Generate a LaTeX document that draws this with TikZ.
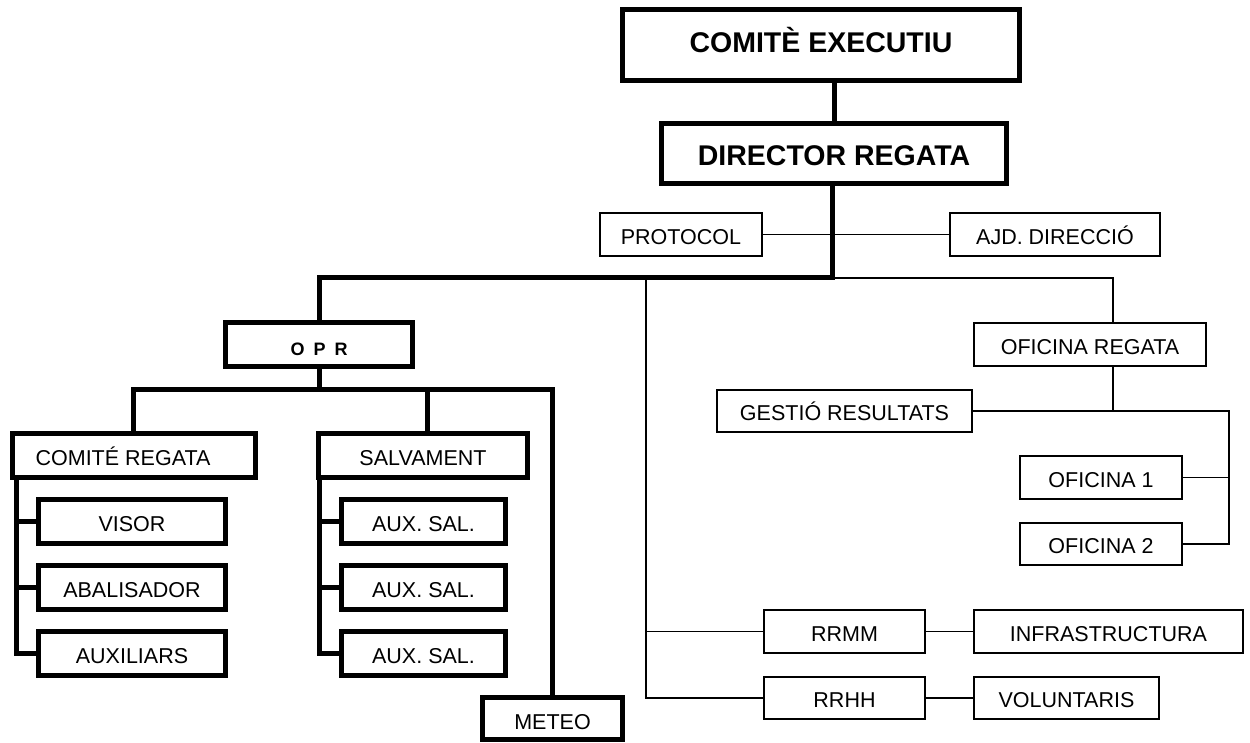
\documentclass[tikz,border=0pt]{standalone}
\usepackage{fontspec}
\setmainfont{Liberation Sans}
\begin{document}
\begin{tikzpicture}[x=1pt,y=-1pt,
  sz/.style 2 args={minimum width=#1pt, minimum height=#2pt},
  thickbox/.style={draw, line width=5pt, inner sep=0pt, text height=19.5pt, text depth=0pt,
    font=\fontsize{21.5}{24}\selectfont},
  thinbox/.style={draw, line width=1.8pt, inner sep=0pt, text height=19.5pt, text depth=0pt,
    font=\fontsize{21.5}{24}\selectfont},
  boldtxt/.style={font=\fontsize{28.5}{32}\selectfont\bfseries},
  thickline/.style={line width=5pt, line join=miter},
  thinline/.style={line width=1.8pt, line join=miter}]
\useasboundingbox (0,0) rectangle (1250,743);

% top boxes
\node[thickbox, boldtxt, sz={397}{71}, text height=20.5pt, text depth=6pt] (ce) at (821,45) {COMITÈ EXECUTIU};
\node[thickbox, boldtxt, sz={345}{60}, text height=23.5pt] (dr) at (834,153.5) {DIRECTOR REGATA};
\node[thinbox, sz={162.5}{43.5}] (prot) at (681,234.5) {PROTOCOL};
\node[thinbox, sz={210.5}{43.5}] (ajd) at (1055,234.5) {AJD. DIRECCIÓ};

% OPR branch
\node[thickbox, sz={187}{44}, font=\fontsize{18}{20}\selectfont\bfseries, text height=21pt] (opr) at (319,344.5) {O\hspace{0.5em}P\hspace{0.5em}R};
\node[thickbox, sz={243}{44}] (cr) at (134,455.5) {COMITÉ REGATA\hspace*{22pt}};
\node[thickbox, sz={209}{44}] (salv) at (423,455.5) {SALVAMENT};
\node[thickbox, sz={187}{44}] (visor) at (132,521.5) {VISOR};
\node[thickbox, sz={187}{44}] (abal) at (132,587.5) {ABALISADOR};
\node[thickbox, sz={187}{44}] (auxi) at (132,653.5) {AUXILIARS};
\node[thickbox, sz={164}{44}] (as1) at (423.5,521.5) {AUX. SAL.};
\node[thickbox, sz={164}{44}] (as2) at (423.5,587.5) {AUX. SAL.};
\node[thickbox, sz={164}{44}] (as3) at (423.5,653.5) {AUX. SAL.};
\node[thickbox, sz={140}{42}, text height=22pt] (met) at (552.5,718.5) {METEO};

% right side
\node[thinbox, sz={232.5}{43.5}] (ofr) at (1090,344.5) {OFICINA REGATA};
\node[thinbox, sz={255.5}{42.5}] (ges) at (844.5,411) {GESTIÓ RESULTATS};
\node[thinbox, sz={162.5}{43.5}] (of1) at (1101,477.5) {OFICINA 1};
\node[thinbox, sz={162.5}{42.5}] (of2) at (1101,544) {OFICINA 2};
\node[thinbox, sz={161.5}{43.5}] (rrmm) at (844.5,631.5) {RRMM};
\node[thinbox, sz={161.5}{42.5}] (rrhh) at (844.5,698) {RRHH};
\node[thinbox, sz={269.5}{43.5}] (inf) at (1108.5,631.5) {INFRASTRUCTURA};
\node[thinbox, sz={185.5}{42.5}] (vol) at (1066.5,698) {VOLUNTARIS};

% junction coordinates
\coordinate (j1) at (832,278);
\coordinate (j2) at (1113,278);
\coordinate (j3) at (646,278);
\coordinate (j4) at (1229,411);
\coordinate (b1) at (133,389);
\coordinate (b2) at (427,389);
\coordinate (b3) at (552,389);
\coordinate (l1) at (16,480);
\coordinate (l2) at (319.5,480);

% thick connectors
\draw[thickline] (ce.south -| dr.north) -- (dr.north);
\draw[thickline] (dr.south -| j1) -- (j1) -| (opr.north);
\draw[thickline] (opr.south) -- (opr.south |- b1);
\draw[thickline] (b1 |- cr.north) -- (b1) -- (b3) -- (b3 |- met.north);
\draw[thickline] (b2) -- (b2 |- salv.north);
\draw[thickline] (l1 |- cr.south) |- (auxi.west);
\draw[thickline] (l1 |- visor.west) -- (visor.west);
\draw[thickline] (l1 |- abal.west) -- (abal.west);
\draw[thickline] (l2 |- salv.south) |- (as3.west);
\draw[thickline] (l2 |- as1.west) -- (as1.west);
\draw[thickline] (l2 |- as2.west) -- (as2.west);

% thin connectors
\draw[thinline] (prot.east) -- (ajd.west);
\draw[thinline] (j1) -- (j2) -- (j2 |- ofr.north);
\draw[thinline] (j2 |- ofr.south) -- (j2 |- ges.east);
\draw[thinline] (ges.east) -- (j4) |- (of2.east);
\draw[thinline] (of1.east) -- (of1.east -| j4);
\draw[thinline] (j3) |- (rrhh.west);
\draw[thinline] (j3 |- rrmm.west) -- (rrmm.west);
\draw[thinline] (rrmm.east) -- (inf.west);
\draw[thinline] (rrhh.east) -- (vol.west);
\end{tikzpicture}
\end{document}
